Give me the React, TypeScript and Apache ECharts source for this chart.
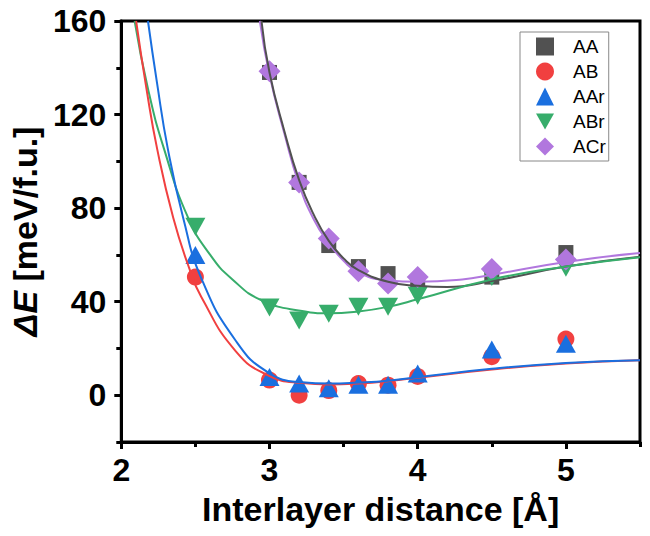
import { useEffect, useRef } from 'react';
import * as echarts from 'echarts';

// ---- scatter data ----
const AA_X = [3.0, 3.2, 3.4, 3.6, 3.8, 4.0, 4.5, 5.0];
const AA_Y = [138, 91, 64, 55, 52, 48.5, 50.5, 61];
const AB_X = [2.5, 3.0, 3.2, 3.4, 3.6, 3.8, 4.0, 4.5, 5.0];
const AB_Y = [50.5, 6.5, 0, 2, 5, 4.3, 8, 16.5, 24];
const AAR_X = [2.5, 3.0, 3.2, 3.4, 3.6, 3.8, 4.0, 4.5, 5.0];
const AAR_Y = [60, 7.8, 5, 3, 4.5, 4.5, 9.3, 19.5, 22];
const ABR_X = [2.5, 3.0, 3.2, 3.4, 3.6, 3.8, 4.0, 4.5, 5.0];
const ABR_Y = [72, 37.5, 32, 34.8, 37.8, 37.8, 42.5, 50.5, 54.5];
const ACR_X = [3.0, 3.2, 3.4, 3.6, 3.8, 4.0, 4.5, 5.0];
const ACR_Y = [138.5, 91, 67, 53, 47.8, 50.5, 54, 58];

// ---- fitted curves ----
const AA_FIT_X = [2.946, 3.0, 3.1, 3.2, 3.3, 3.4, 3.5, 3.6, 3.8, 4.0, 4.2, 4.5, 5.0, 5.5];
const AA_FIT_Y = [160, 138, 113, 92, 77, 66, 58.5, 53.5, 48.5, 46.8, 46.3, 48.8, 55, 59.2];
const AB_FIT_X = [2.1, 2.17, 2.243, 2.35, 2.46, 2.54, 2.77, 2.99, 3.22, 3.4, 3.6, 3.8, 4.0, 4.5, 5.0, 5.5];
const AB_FIT_Y = [160, 131, 105, 76, 54, 42, 19, 8.5, 5.2, 4.6, 5.0, 6.0, 7.5, 11, 13.6, 15];
const AAR_FIT_X = [2.18, 2.24, 2.315, 2.417, 2.54, 2.77, 2.99, 3.22, 3.4, 3.6, 3.8, 4.0, 4.5, 5.0, 5.5];
const AAR_FIT_Y = [160, 134, 105, 76, 50, 23.5, 9.8, 5.5, 5.0, 5.4, 6.2, 7.7, 11.3, 13.8, 15];
const ABR_FIT_X = [2.09, 2.18, 2.29, 2.45, 2.6, 2.75, 2.95, 3.22, 3.4, 3.6, 3.8, 4.0, 4.5, 5.0, 5.5];
const ABR_FIT_Y = [160, 131, 105, 76, 60, 49.5, 40.5, 36, 35, 35.8, 37.8, 41, 49.5, 55, 59];
const ACR_FIT_X = [2.935, 3.0, 3.1, 3.2, 3.3, 3.4, 3.5, 3.6, 3.8, 4.0, 4.3, 4.5, 5.0, 5.5];
const ACR_FIT_Y = [160, 137, 112, 90, 75, 65, 57.5, 52.5, 49, 48.5, 49.5, 51.5, 57, 60.8];

// ---- axes ----
const X_TICKS = [2, 3, 4, 5];
const X_MINOR = [2.5, 3.5, 4.5, 5.5];
const Y_TICKS = [0, 40, 80, 120, 160];
const Y_MINOR = [-20, 20, 60, 100, 140];

const NAMES = ['AA', 'AB', 'AAr', 'ABr', 'ACr'];
const COLORS = ['#515151', '#F14040', '#1A6FDF', '#37AD6B', '#B177DE'];

const FONT = '"Liberation Sans", Arial, Helvetica, sans-serif';

const zip = (xs: number[], ys: number[]) => xs.map((x, i) => [x, ys[i]]);

export default function App() {
  const ref = useRef<HTMLDivElement>(null);
  useEffect(() => {
    document.body.style.margin = '0';
    if (!ref.current) return;
    const chart = echarts.init(ref.current, null, { renderer: 'svg' });

    const scatterDefs = [
      { name: 'AA', data: zip(AA_X, AA_Y), symbol: 'rect', size: 15 },
      { name: 'AB', data: zip(AB_X, AB_Y), symbol: 'circle', size: 17 },
      { name: 'AAr', data: zip(AAR_X, AAR_Y), symbol: 'triangle', size: [20, 18] },
      { name: 'ABr', data: zip(ABR_X, ABR_Y), symbol: 'path://M0,0 L10,0 L5,9 Z', size: [20, 18] },
      { name: 'ACr', data: zip(ACR_X, ACR_Y), symbol: 'diamond', size: 22 },
    ];
    const fitDefs = [
      { name: 'ACr fit', data: zip(ACR_FIT_X, ACR_FIT_Y), color: COLORS[4] },
      { name: 'AA fit', data: zip(AA_FIT_X, AA_FIT_Y), color: COLORS[0] },
      { name: 'ABr fit', data: zip(ABR_FIT_X, ABR_FIT_Y), color: COLORS[3] },
      { name: 'AB fit', data: zip(AB_FIT_X, AB_FIT_Y), color: COLORS[1] },
      { name: 'AAr fit', data: zip(AAR_FIT_X, AAR_FIT_Y), color: COLORS[2] },
    ];

    const series: any[] = [];
    scatterDefs.forEach((s, i) => {
      series.push({
        type: 'scatter',
        name: s.name,
        data: s.data,
        symbol: s.symbol,
        symbolSize: s.size,
        itemStyle: { color: COLORS[i], opacity: 1 },
        z: 2,
      });
    });
    fitDefs.forEach((f) => {
      series.push({
        type: 'line',
        name: f.name,
        data: f.data,
        showSymbol: false,
        smooth: 0.5,
        lineStyle: { color: f.color, width: 2 },
        itemStyle: { color: f.color },
        z: 3,
      });
    });

    const baseAxisLabel = { color: '#000', fontFamily: FONT, fontWeight: 'bold', fontSize: 32 };

    chart.setOption({
      animation: false,
      grid: {
        left: 120,
        top: 21,
        right: 10,
        bottom: 94,
        show: true,
        borderColor: '#000',
        borderWidth: 3,
        backgroundColor: 'transparent',
      },
      legend: {
        data: NAMES,
        orient: 'vertical',
        left: 520,
        top: 32,
        itemWidth: 18,
        itemHeight: 18,
        itemGap: 6,
        padding: [5, 3, 5, 16],
        borderColor: '#888',
        borderWidth: 1,
        borderRadius: 0,
        backgroundColor: '#fff',
        textStyle: { fontFamily: FONT, fontSize: 19, color: '#000', padding: [0, 0, 0, 14] },
      },
      xAxis: [
        {
          type: 'value',
          min: 2,
          max: 5.5,
          interval: 1,
          position: 'bottom',
          name: 'Interlayer distance [Å]',
          nameLocation: 'middle',
          nameGap: 50,
          nameTextStyle: { color: '#000', fontFamily: FONT, fontWeight: 'bold', fontSize: 34 },
          axisLine: { show: true, onZero: false, lineStyle: { color: '#000', width: 3 } },
          axisTick: { show: true, length: 7, lineStyle: { color: '#000', width: 3 }, customValues: X_TICKS },
          axisLabel: { ...baseAxisLabel, margin: 12, customValues: X_TICKS },
          splitLine: { show: false },
        },
        {
          type: 'value',
          min: 2,
          max: 5.5,
          position: 'bottom',
          axisLine: { show: false, onZero: false },
          axisTick: { show: true, length: 5, lineStyle: { color: '#000', width: 3 }, customValues: X_MINOR },
          axisLabel: { show: false },
          splitLine: { show: false },
        },
      ],
      yAxis: [
        {
          type: 'value',
          min: -20,
          max: 160,
          position: 'left',
          name: '{i|ΔE} [meV/f.u.]',
          nameLocation: 'middle',
          nameGap: 78,
          nameTextStyle: {
            color: '#000',
            fontFamily: FONT,
            fontWeight: 'bold',
            fontSize: 34,
            rich: { i: { fontStyle: 'italic', fontWeight: 'bold', fontSize: 34, fontFamily: FONT, color: '#000' } },
          },
          axisLine: { show: true, onZero: false, lineStyle: { color: '#000', width: 3 } },
          axisTick: { show: true, length: 7, lineStyle: { color: '#000', width: 3 }, customValues: Y_TICKS },
          axisLabel: { ...baseAxisLabel, margin: 15, customValues: Y_TICKS },
          splitLine: { show: false },
        },
        {
          type: 'value',
          min: -20,
          max: 160,
          position: 'left',
          axisLine: { show: false, onZero: false },
          axisTick: { show: true, length: 5, lineStyle: { color: '#000', width: 3 }, customValues: Y_MINOR },
          axisLabel: { show: false },
          splitLine: { show: false },
        },
      ],
      series,
    });
    return () => chart.dispose();
  }, []);
  return <div ref={ref} style={{ width: 650, height: 536 }} />;
}
